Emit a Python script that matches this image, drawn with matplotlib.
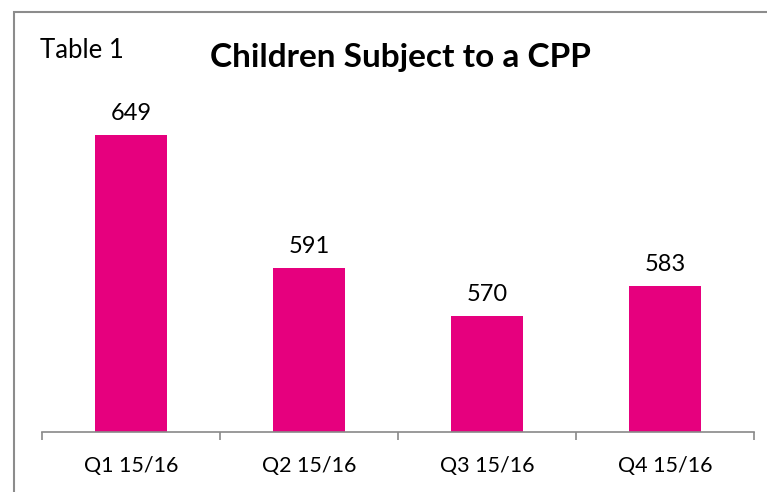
import matplotlib
matplotlib.use("Agg")
import matplotlib.pyplot as plt
from matplotlib.patches import Rectangle

categories = ["Q1 15/16", "Q2 15/16", "Q3 15/16", "Q4 15/16"]
values = [649, 591, 570, 583]

plt.rcParams['font.family'] = ['Lato', 'DejaVu Sans']

fig = plt.figure(figsize=(7.67, 4.92), dpi=100)
ax = fig.add_axes([42/767, 60/492, 712/767, (432-67)/492])

x = list(range(len(categories)))
bars = ax.bar(x, values, width=0.4, color="#E6007E", zorder=2)
ax.set_xlim(-0.5, len(categories) - 0.5)
ax.set_ylim(519, 679)

for xi, v in zip(x, values):
    ax.annotate(str(v), (xi, v), xytext=(0, 8), textcoords="offset points",
                ha="center", va="bottom", fontsize=17, color="black")

ax.set_xticks([i - 0.5 for i in range(len(categories) + 1)], minor=False)
ax.set_xticklabels([])
ax.set_xticks(x, minor=True)
ax.set_xticklabels(categories, minor=True, fontsize=15.5)
ax.tick_params(axis="x", which="major", length=6, color="#898989", width=1.2)
ax.tick_params(axis="x", which="minor", length=0, pad=17)
ax.set_yticks([])
for s in ["left", "right", "top"]:
    ax.spines[s].set_visible(False)
ax.spines["bottom"].set_color("#898989")
ax.spines["bottom"].set_linewidth(1.2)

fig.text(400/767, 1 - 57/492, "Children Subject to a CPP", ha="center", va="center",
         fontsize=24, fontweight="bold")
fig.text(40/767, 1 - 51/492, "Table 1", ha="left", va="center", fontsize=18.5)

fig.patches.append(Rectangle((14/767, -0.1), 1.2, 1 - 12/492 + 0.1,
                             transform=fig.transFigure, fill=False,
                             edgecolor="#8c8c8c", linewidth=1.5))

fig.savefig("out.png", dpi=100)
